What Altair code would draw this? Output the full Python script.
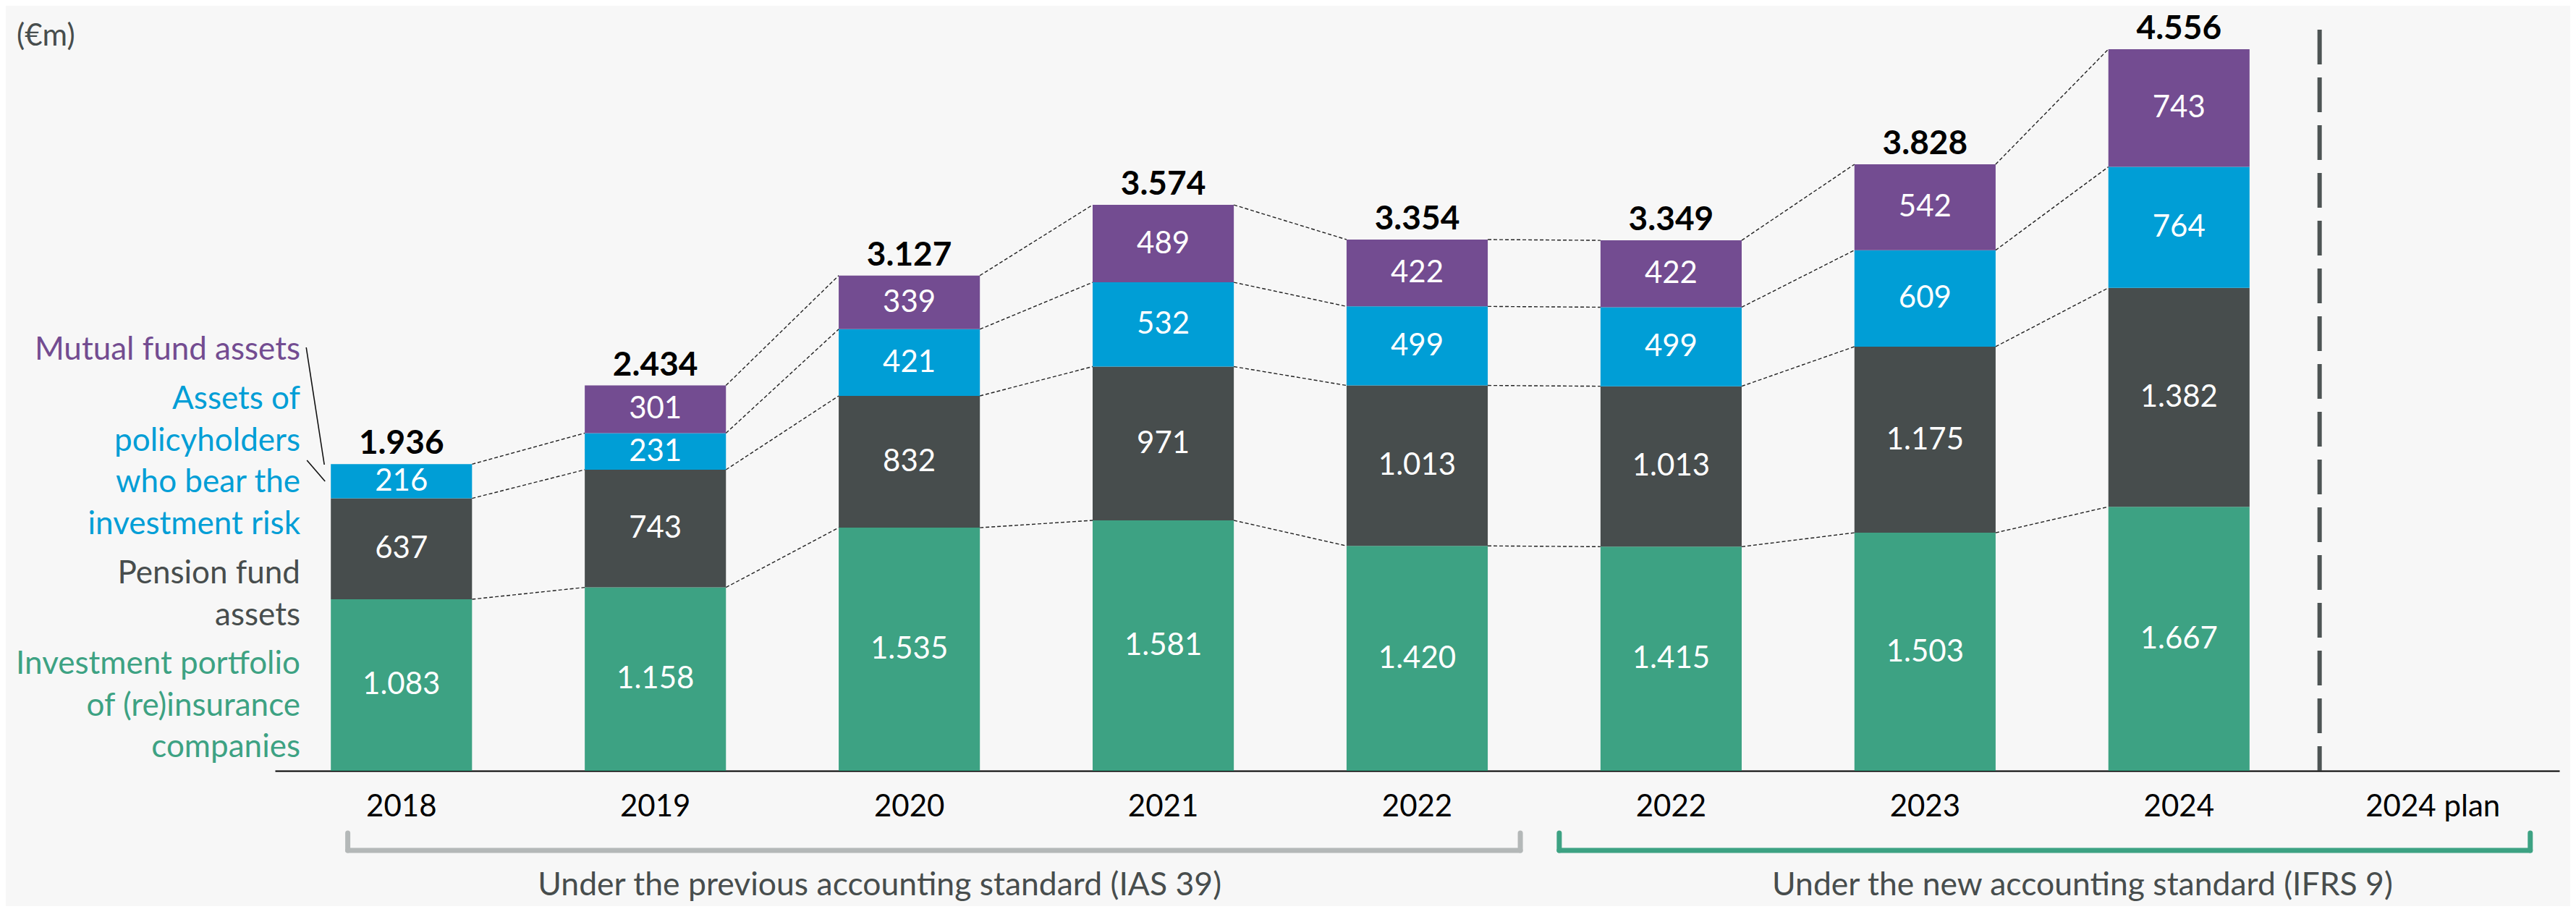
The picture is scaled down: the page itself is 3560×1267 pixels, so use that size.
import altair as alt
import pandas as pd

# ---------------- data ----------------
years = ["2018", "2019", "2020", "2021", "2022", "2022 ", "2023", "2024", "2024 plan"]
series = [
    "Investment portfolio of (re)insurance companies",
    "Pension fund assets",
    "Assets of policyholders who bear the investment risk",
    "Mutual fund assets",
]
investment = [1083, 1158, 1535, 1581, 1420, 1415, 1503, 1667, None]
pension = [637, 743, 832, 971, 1013, 1013, 1175, 1382, None]
policyholders = [216, 231, 421, 532, 499, 499, 609, 764, None]
mutual = [0, 301, 339, 489, 422, 422, 542, 743, None]
total_labels = ["1.936", "2.434", "3.127", "3.574", "3.354", "3.349", "3.828", "4.556", None]

legend_lines = {
    "Mutual fund assets": ["Mutual fund assets"],
    "Assets of policyholders who bear the investment risk": ["Assets of", "policyholders", "who bear the", "investment risk"],
    "Pension fund assets": ["Pension fund", "assets"],
    "Investment portfolio of (re)insurance companies": ["Investment portfolio", "of (re)insurance", "companies"],
}
bracket_texts = ["Under the previous accounting standard (IAS 39)", "Under the new accounting standard (IFRS 9)"]
unit_text = "(€m)"

colors = ["#3da283", "#474d4d", "#009ed6", "#734c91"]
text_colors = ["#3da283", "#474d4d", "#009ed6", "#734c91"]
values = [investment, pension, policyholders, mutual]

# ---------------- derived tables ----------------
rows = []
for i, yr in enumerate(years):
    base = 0
    for k, s in enumerate(series):
        v = values[k][i]
        if not v:
            continue
        rows.append(dict(year=yr, series=s, y0=base, y1=base + v, mid=base + v / 2,
                         label=f"{v:,}".replace(",", ".")))
        base += v
seg = pd.DataFrame(rows)

tot_rows = []
for i, yr in enumerate(years):
    if total_labels[i] is None:
        continue
    tot_rows.append(dict(year=yr, top=sum(values[k][i] for k in range(4)), label=total_labels[i]))
tot = pd.DataFrame(tot_rows)

conn_rows = []
for i in range(len(years) - 1):
    for k in range(4):
        a, b = values[k][i], values[k][i + 1]
        if not a or not b:
            continue
        conn_rows.append(dict(x_from=years[i], x_to=years[i + 1],
                              y_from=sum(values[j][i] for j in range(k + 1)),
                              y_to=sum(values[j][i + 1] for j in range(k + 1))))
conn = pd.DataFrame(conn_rows)

# ---------------- scales ----------------
W, H = 3157, 1057
FONT = "Lato"
xscale = alt.Scale(domain=years, paddingInner=0.444, paddingOuter=0.22)
yscale = alt.Scale(domain=[0, 4830], nice=False, zero=True)
xaxis = alt.Axis(title=None, labelExpr="trim(datum.label)", labelLimit=0)


def X(field, bp=None):
    if bp is None:
        return alt.X(field, type="nominal", scale=xscale, axis=xaxis)
    return alt.X(field, type="nominal", scale=xscale, axis=xaxis, bandPosition=bp)


def anchor(cat):
    return alt.Chart(pd.DataFrame({"a": [cat]}))


connectors = alt.Chart(conn).mark_rule(color="#222222", strokeWidth=1.4, strokeDash=[5, 3]).encode(
    x=X("x_from", 1),
    x2=alt.X2("x_to", bandPosition=0),
    y=alt.Y("y_from:Q", scale=yscale, axis=None),
    y2="y_to",
)

bars = alt.Chart(seg).mark_bar().encode(
    x=X("year"),
    y=alt.Y("y0:Q", scale=yscale, axis=None),
    y2="y1",
    color=alt.Color("series:N", scale=alt.Scale(domain=series, range=colors), legend=None),
)

seg_text = alt.Chart(seg).mark_text(color="white", font=FONT, fontSize=42, baseline="middle").encode(
    x=X("year"),
    y=alt.Y("mid:Q", scale=yscale, axis=None),
    text="label:N",
)

tot_text = alt.Chart(tot).mark_text(color="black", font=FONT, fontSize=46, fontWeight="bold",
                                     baseline="alphabetic", dy=-14).encode(
    x=X("year"),
    y=alt.Y("top:Q", scale=yscale, axis=None),
    text="label:N",
)

plan_line = anchor("2024 plan").mark_rule(color="#4d5454", strokeWidth=6, strokeDash=[48, 18], xOffset=-59).encode(
    x=X("a", 0), y=alt.value(33), y2=alt.value(H),
)

lead1 = anchor("2018").mark_rule(color="#111111", strokeWidth=1.6, xOffset=-34, x2Offset=-9).encode(
    x=X("a", 0), x2=alt.X2("a", bandPosition=0), y=alt.value(472), y2=alt.value(634),
)
lead2 = anchor("2018").mark_rule(color="#111111", strokeWidth=1.6, xOffset=-33, x2Offset=-8).encode(
    x=X("a", 0), x2=alt.X2("a", bandPosition=0), y=alt.value(628), y2=alt.value(657),
)

legend_y = [923, 798, 557, 489]
legend_layers = []
for k, s in enumerate(series):
    legend_layers.append(
        alt.Chart(pd.DataFrame({"t": [0]})).mark_text(
            align="right", baseline="alphabetic", font=FONT, fontSize=44, lineHeight=57.7,
            color=text_colors[k], text=legend_lines[s]
        ).encode(x=alt.value(35), y=alt.value(legend_y[k]))
    )


def bracket(left, right, color):
    (cl, bl, ol), (cr, br, orr) = left, right
    kw = dict(color=color, strokeWidth=7, strokeCap="round")
    return [
        alt.Chart(pd.DataFrame({"a": [cl], "b": [cr]})).mark_rule(xOffset=ol, x2Offset=orr, **kw).encode(
            x=X("a", bl), x2=alt.X2("b", bandPosition=br), y=alt.value(1167)),
        anchor(cl).mark_rule(xOffset=ol, **kw).encode(x=X("a", bl), y=alt.value(1143), y2=alt.value(1167)),
        anchor(cr).mark_rule(xOffset=orr, **kw).encode(x=X("a", br), y=alt.value(1143), y2=alt.value(1167)),
    ]


brackets = (bracket(("2018", 0.12, 0), ("2022", 1, 45), "#b4b8b8")
            + bracket(("2022 ", 0, -57), ("2024 plan", 1, 37), "#3da283"))

btext1 = anchor("2020").mark_text(font=FONT, fontSize=44.5, color="#474d4d", baseline="alphabetic",
                                  text=bracket_texts[0]).encode(x=X("a", 0.29), y=alt.value(1229))
btext2 = anchor("2023").mark_text(font=FONT, fontSize=44.5, color="#474d4d", baseline="alphabetic",
                                  dx=120, text=bracket_texts[1]).encode(x=X("a", 1), y=alt.value(1229))

unit = alt.Chart(pd.DataFrame({"t": [0]})).mark_text(
    font=FONT, fontSize=42, color="#474d4d", align="left", baseline="alphabetic", text=unit_text
).encode(x=alt.value(-357), y=alt.value(55))

chart = alt.layer(
    connectors, bars, seg_text, tot_text, plan_line, lead1, lead2,
    *legend_layers, *brackets, btext1, btext2, unit
).properties(
    width=W, height=H,
    autosize=alt.AutoSizeParams(type="none"),
    padding={"left": 372, "top": 0, "right": 15, "bottom": 187},
).configure(
    background="#f7f7f7",
).configure_view(
    stroke=None,
).configure_axisX(
    labelFont=FONT, labelFontSize=42, labelColor="#000000", labelAngle=0,
    domainColor="#000000", domainWidth=2, ticks=False, tickSize=0, labelPadding=29, grid=False,
)

chart.save("out.html", embed_options={"renderer": "svg", "actions": False})
